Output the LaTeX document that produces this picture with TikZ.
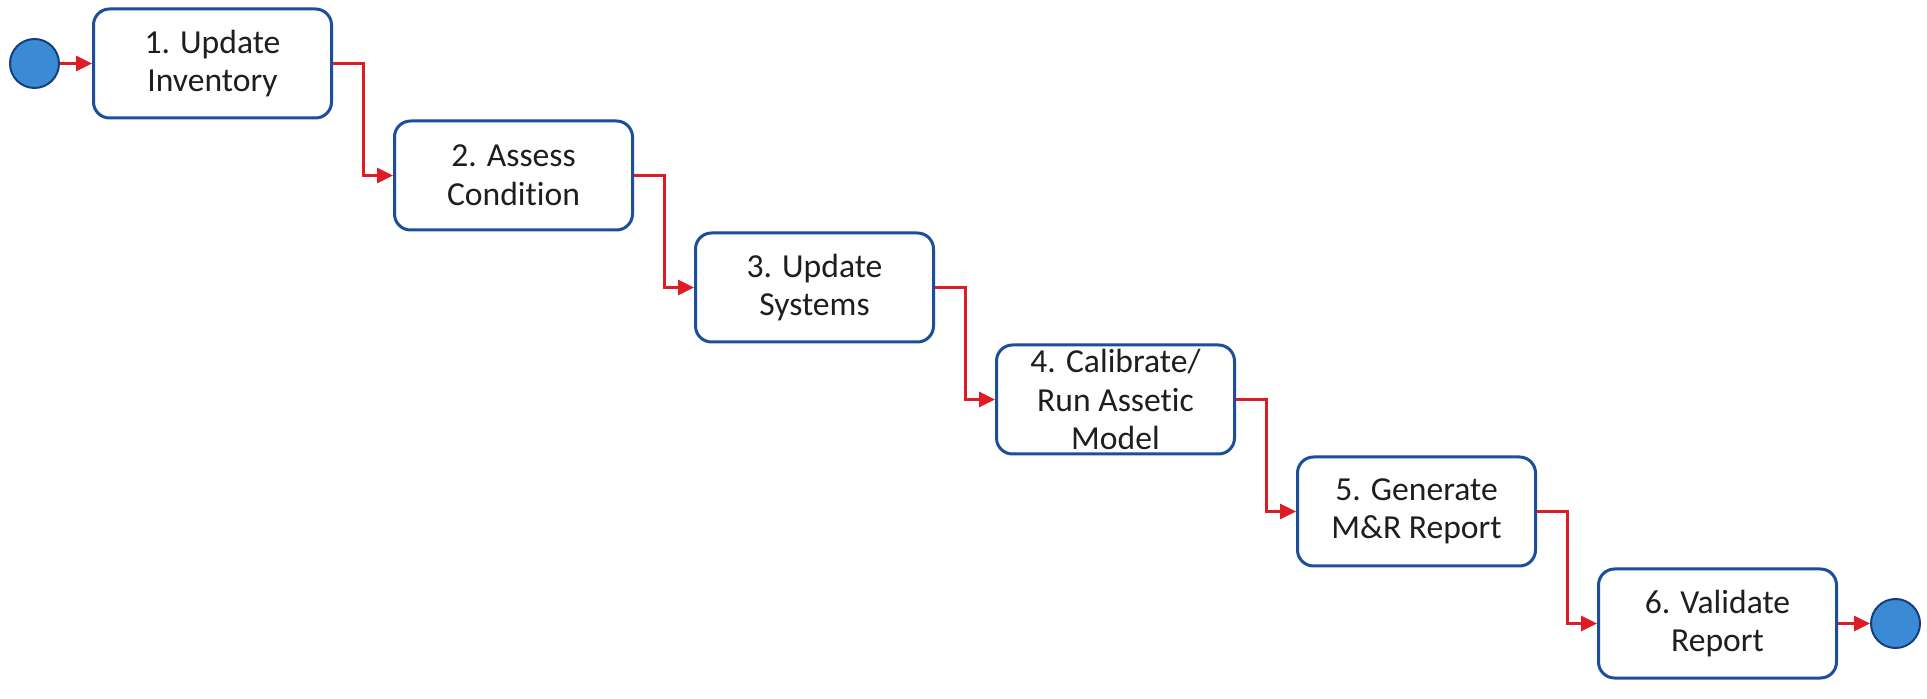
\documentclass[tikz,border=0pt]{standalone}
\usepackage{fontspec}
\setmainfont{Carlito}[Ligatures=NoCommon]
\usepackage{xcolor}
\usepackage{tikz}
\usetikzlibrary{positioning,arrows.meta}
\definecolor{boxblue}{RGB}{28,78,155}
\definecolor{dotblue}{RGB}{58,138,212}
\definecolor{flowred}{RGB}{222,28,38}
\definecolor{textgray}{RGB}{30,30,30}

\begin{document}
\begin{tikzpicture}[
		stepbox/.style={draw=boxblue, line width=1.5pt, rectangle, rounded corners=8pt, fill=white, minimum width=119pt, minimum height=54.5pt, align=center, text=textgray, font=\fontsize{16.8}{19.3}\selectfont, inner sep=0pt},
		dot/.style={draw=boxblue!80!black, line width=1pt, circle, fill=dotblue, minimum size=24.5pt, inner sep=0pt},
		flow/.style={draw=flowred, line width=1.5pt, -{Triangle[length=8pt,width=7.5pt]}}
	]
		\useasboundingbox (0,0) rectangle (963.5pt,-349.5pt);
		\node[dot] (start) at (17.25pt,-31.75pt) {};
		\node[stepbox, right=16pt of start] (inv) {1. Update\\Inventory};
		\node[stepbox, below right=0pt and 30pt of inv] (cond) {2. Assess\\Condition};
		\node[stepbox, below right=0pt and 30pt of cond] (sys) {3. Update\\Systems};
		\node[stepbox, below right=0pt and 30pt of sys] (model) {4. Calibrate/\\Run Assetic\\Model};
		\node[stepbox, below right=0pt and 30pt of model] (report) {5. Generate\\M\&R Report};
		\node[stepbox, below right=0pt and 30pt of report] (valid) {6. Validate\\Report};
		\node[dot, right=16pt of valid] (stop) {};
		
		\draw[flow] (start) -- (inv);
		\draw[flow] (inv.east) -- ++(15pt,0) |- (cond.west);
		\draw[flow] (cond.east) -- ++(15pt,0) |- (sys.west);
		\draw[flow] (sys.east) -- ++(15pt,0) |- (model.west);
		\draw[flow] (model.east) -- ++(15pt,0) |- (report.west);
		\draw[flow] (report.east) -- ++(15pt,0) |- (valid.west);
		\draw[flow] (valid) -- (stop);
	\end{tikzpicture}
\end{document}
